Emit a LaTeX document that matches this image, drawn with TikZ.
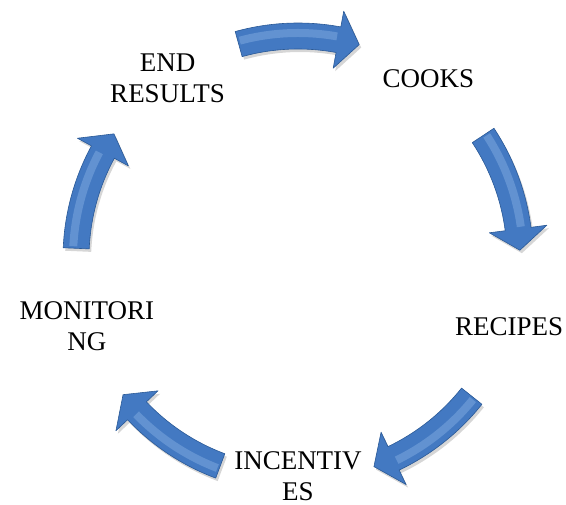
\documentclass[tikz,border=0pt]{standalone}
\usepackage{fontspec}
\setmainfont{Liberation Serif}
\usetikzlibrary{calc}
\definecolor{arrowfill}{HTML}{4379C2}
\definecolor{arrowdraw}{HTML}{2A5996}
\definecolor{arrowshine}{HTML}{9DC2EE}
\tikzset{
  stage/.style={align=center, inner sep=0pt, font=\fontsize{27}{31}\selectfont},
  cyclearrow/.style={
    preaction={fill=black, opacity=0.16, transform canvas={shift={(2pt,-3pt)}}},
    fill=arrowfill, draw=arrowdraw, line width=0.6pt, line join=round,
  },
  arrowglow/.style={draw=arrowshine, line width=8pt, opacity=0.35},
}

\begin{document}
\begin{tikzpicture}[x=1pt, y=1pt]
  \useasboundingbox (0,0) rectangle (566,505);
  \coordinate (centre) at (298,247);

  % the five stages sit on a circle of radius 222
  \node[stage] (cooks)      at ($(centre)+(54:222)$)  {COOKS};
  \node[stage] (recipes)    at ($(centre)+(-18:222)$) {RECIPES};
  \node[stage] (incentives) at ($(centre)+(-90:218)$) {INCENTIV\\ES};
  \node[stage] (monitoring) at ($(centre)+(198:222)$) {MONITORI\\NG};
  \node[stage] (endresults) at ($(centre)+(126:222)$) {END\\RESULTS};

  % curved block arrows half way between the stages, running clockwise
  \begin{scope}[shift={(centre)}]
    \foreach \m in {90,18,-54,-126,-198} {
      \pgfmathsetmacro{\tail}{\m+15.5}
      \pgfmathsetmacro{\base}{\m-10.5}
      \pgfmathsetmacro{\tip}{\m-16}
      \pgfmathsetmacro{\gtail}{\m+15}
      \pgfmathsetmacro{\gbase}{\m-10}
      \path[cyclearrow] (\tail:235) arc[start angle=\tail, end angle=\base, radius=235]
        -- (\base:251) -- (\tip:222) -- (\base:193) -- (\base:209)
        arc[start angle=\base, end angle=\tail, radius=209] -- cycle;
      \draw[arrowglow] (\gtail:225) arc[start angle=\gtail, end angle=\gbase, radius=225];
    }
  \end{scope}
\end{tikzpicture}
\end{document}
